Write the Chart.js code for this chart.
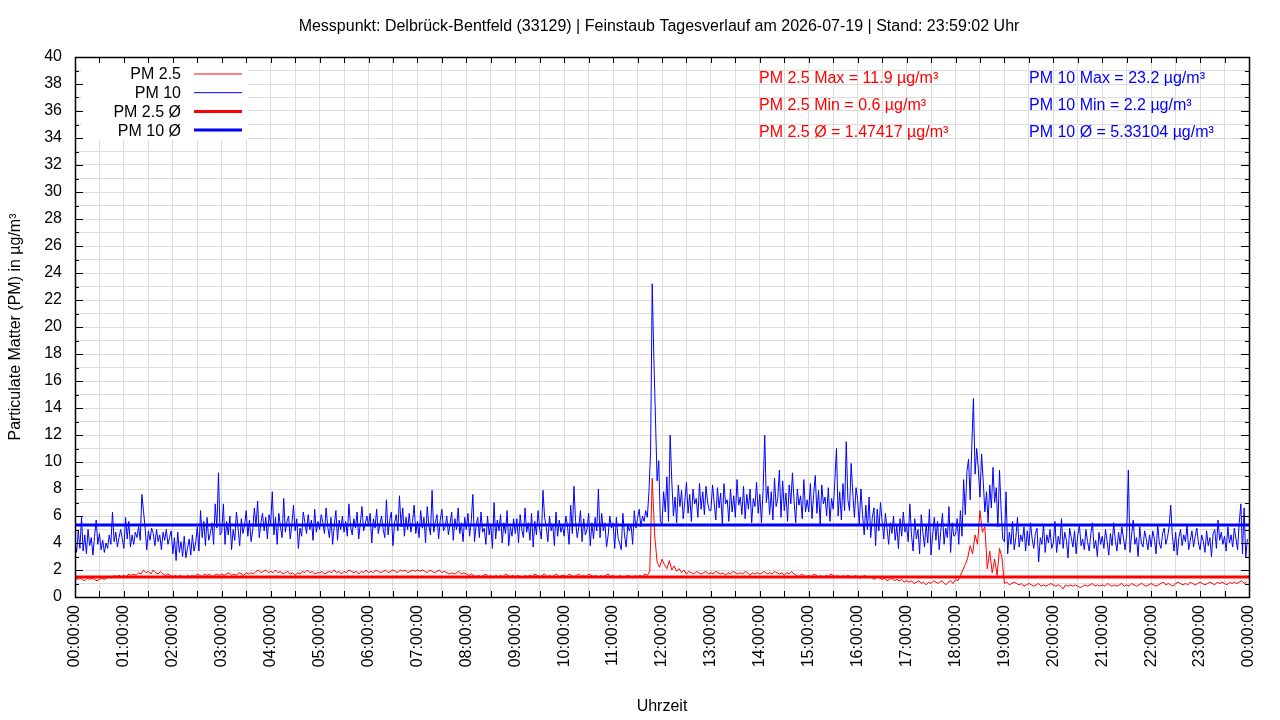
<!DOCTYPE html>
<html>
<head>
<meta charset="utf-8">
<script src="https://cdn.jsdelivr.net/npm/chart.js@4.4.1/dist/chart.umd.min.js"></script>
<style>
  html, body { margin: 0; padding: 0; background: #fff; }
  #wrap { width: 1280px; height: 720px; position: relative; }
</style>
</head>
<body>
<div id="wrap"><canvas id="pmChart"></canvas></div>
<script>
// PM 10 sampled every 2 minutes, PM 2.5 every 3 minutes
const pm10Step = 2;
const pm25Step = 3;

const hourLabels = [
  "00:00:00", "01:00:00", "02:00:00", "03:00:00", "04:00:00", "05:00:00", "06:00:00", "07:00:00",
  "08:00:00", "09:00:00", "10:00:00", "11:00:00", "12:00:00", "13:00:00", "14:00:00", "15:00:00",
  "16:00:00", "17:00:00", "18:00:00", "19:00:00", "20:00:00", "21:00:00", "22:00:00", "23:00:00",
  "00:00:00",
];

const pm10 = [
  4.1, 3.3, 4.9, 3.6, 5.9, 3.4, 4.6, 3.2, 5.0, 3.8, 4.4, 3.1, 4.5, 5.7, 3.9, 4.7, 3.5, 4.2, 3.3, 4.0, 3.6, 4.6, 3.9, 6.3, 4.1, 4.8, 3.7, 4.4, 5.0, 4.3,
  3.6, 5.9, 4.3, 5.6, 3.7, 4.6, 3.9, 4.8, 4.4, 5.2, 4.2, 7.6, 6.4, 5.1, 3.5, 4.9, 4.2, 5.1, 4.7, 3.8, 5.0, 4.1, 4.6, 3.5, 4.8, 4.2, 5.0, 3.9, 4.4, 4.9,
  3.2, 4.4, 2.7, 4.8, 3.3, 4.1, 3.0, 4.5, 2.9, 3.6, 4.3, 3.1, 4.6, 3.4, 4.0, 5.2, 3.4, 6.4, 4.4, 5.6, 3.8, 5.9, 4.2, 4.7, 5.5, 3.9, 6.9, 5.1, 9.2, 4.6,
  4.8, 6.9, 3.9, 5.6, 4.6, 6.0, 3.5, 5.0, 4.2, 6.3, 5.1, 3.8, 5.8, 4.7, 5.3, 6.4, 4.5, 5.7, 4.1, 5.0, 6.6, 5.2, 7.1, 4.4, 5.5, 6.2, 4.9, 5.9, 4.3, 6.1,
  5.4, 7.8, 4.6, 5.9, 3.9, 6.2, 5.2, 4.4, 7.3, 4.8, 5.6, 6.0, 4.3, 5.4, 6.8, 4.9, 5.8, 3.6, 5.1, 4.5, 6.3, 5.5, 4.7, 6.1, 5.0, 5.7, 4.2, 6.5, 4.8, 5.6,
  5.0, 6.1, 5.5, 4.7, 6.6, 5.2, 4.4, 5.9, 3.9, 5.3, 6.4, 4.2, 5.7, 5.0, 6.0, 4.8, 5.6, 4.5, 6.9, 5.2, 4.6, 5.8, 5.1, 6.3, 4.3, 5.5, 6.7, 4.9, 5.4, 6.0,
  5.3, 6.2, 4.0, 5.8, 5.1, 6.5, 4.7, 5.4, 6.0, 5.0, 4.4, 7.2, 4.6, 5.7, 6.3, 3.8, 5.5, 6.1, 4.9, 7.5, 5.2, 6.6, 4.5, 5.9, 5.0, 6.2, 4.8, 5.6, 6.8, 4.7,
  5.6, 4.4, 6.4, 5.1, 5.9, 4.0, 6.7, 5.3, 4.6, 7.9, 4.8, 5.5, 6.1, 4.3, 5.7, 6.5, 4.9, 5.2, 6.0, 4.6, 5.4, 6.3, 4.2, 5.8, 5.0, 6.6, 4.7, 5.5, 4.1, 5.9,
  5.0, 6.2, 4.5, 5.6, 7.6, 4.1, 5.3, 5.9, 4.4, 6.3, 4.8, 5.1, 3.9, 6.0, 4.6, 5.4, 3.6, 7.0, 4.3, 5.7, 4.9, 6.1, 4.0, 5.5, 4.7, 6.4, 3.8, 5.2, 4.5, 5.8,
  4.7, 5.8, 4.0, 6.1, 5.0, 4.4, 6.6, 4.8, 5.5, 4.2, 6.2, 3.7, 5.6, 4.6, 6.4, 5.0, 4.3, 7.9, 5.9, 5.2, 4.1, 6.0, 4.9, 5.4, 3.8, 6.3, 4.5, 5.7, 4.8, 5.3,
  4.5, 6.0, 5.3, 3.9, 6.8, 4.7, 8.2, 5.6, 4.4, 5.2, 6.4, 4.1, 5.8, 4.6, 5.0, 6.2, 3.8, 5.5, 4.3, 5.9, 4.9, 8.0, 4.4, 6.2, 4.9, 5.5, 3.7, 4.6, 6.0, 5.1,
  5.5, 3.6, 5.9, 4.4, 4.0, 3.5, 6.2, 4.6, 3.7, 5.3, 4.9, 5.4, 3.9, 6.4, 5.1, 5.8, 6.5, 5.2, 6.0, 5.6, 6.4, 5.9, 7.8, 10.8, 23.2, 17.7, 13.2, 8.6, 10.1, 5.6,
  5.4, 7.8, 6.3, 8.9, 5.6, 12.0, 8.6, 6.0, 7.4, 5.5, 8.3, 6.7, 7.9, 5.8, 7.1, 8.5, 6.2, 7.6, 5.6, 8.0, 6.9, 7.3, 5.9, 8.4, 6.5, 7.8, 6.1, 8.2, 7.0, 6.4,
  6.4, 8.3, 7.0, 5.7, 8.1, 6.6, 7.7, 5.4, 8.4, 6.9, 7.2, 5.6, 8.0, 6.3, 7.5, 5.9, 8.7, 6.8, 7.4, 6.1, 8.2, 5.8, 7.6, 6.5, 8.0, 5.5, 7.3, 6.7, 8.5, 6.2,
  7.6, 5.5, 7.9, 12.0, 7.0, 8.2, 6.1, 7.8, 5.7, 8.8, 6.7, 7.3, 9.4, 5.9, 8.6, 6.4, 7.7, 5.6, 8.3, 6.9, 9.2, 7.1, 5.5, 8.0, 6.8, 7.5, 5.8, 8.7, 6.3, 7.2,
  6.3, 8.4, 5.8, 7.6, 9.0, 6.2, 7.9, 5.4, 8.3, 6.9, 7.4, 6.0, 8.1, 5.6, 7.3, 6.5, 8.6, 11.0, 6.0, 7.8, 5.7, 8.4, 6.4, 11.5, 7.2, 6.4, 9.9, 7.7, 5.9, 8.1,
  7.2, 5.3, 8.0, 6.1, 4.6, 6.8, 5.0, 7.4, 4.4, 5.9, 6.6, 3.8, 6.5, 4.9, 7.0, 5.6, 4.3, 6.2, 5.1, 3.9, 5.5, 4.7, 6.0, 4.2, 5.3, 3.6, 5.8, 4.5, 6.3, 4.8,
  5.3, 4.1, 6.9, 4.6, 3.4, 5.8, 4.3, 5.0, 3.2, 6.1, 4.8, 3.7, 5.4, 4.0, 6.5, 3.1, 4.6, 5.9, 4.2, 5.6, 3.5, 4.9, 6.2, 3.9, 5.1, 4.4, 6.7, 3.3, 5.5, 4.5,
  4.6, 5.8, 3.9, 6.4, 4.5, 8.7, 6.1, 9.3, 10.2, 7.2, 11.2, 14.7, 9.1, 11.0, 9.5, 7.4, 10.6, 8.6, 6.3, 7.8, 5.5, 8.3, 6.6, 9.6, 7.0, 8.1, 5.2, 9.4, 6.4, 4.3,
  4.1, 7.8, 3.2, 4.8, 3.9, 5.6, 3.5, 4.4, 5.9, 3.7, 4.6, 4.1, 5.2, 3.4, 4.9, 3.8, 5.5, 4.3, 3.6, 4.7, 5.1, 2.6, 4.4, 3.9, 5.4, 3.3, 4.6, 4.0, 5.0, 3.6,
  4.0, 5.6, 3.3, 4.5, 3.9, 5.8, 3.6, 4.8, 4.2, 2.9, 5.1, 4.4, 3.7, 4.9, 3.2, 4.6, 5.3, 3.8, 4.3, 3.5, 5.0, 4.1, 3.4, 4.7, 5.5, 3.6, 4.2, 3.0, 4.8, 3.9,
  4.5, 3.6, 5.0, 4.1, 3.1, 4.7, 3.8, 5.5, 4.2, 3.4, 4.8, 3.9, 5.2, 4.4, 3.5, 4.6, 9.4, 3.3, 4.6, 5.7, 3.9, 4.4, 3.0, 5.2, 4.0, 3.7, 4.9, 4.3, 3.5, 4.6,
  3.7, 4.9, 4.3, 3.2, 5.4, 4.0, 3.6, 4.7, 5.1, 3.9, 4.4, 5.2, 6.8, 4.5, 3.4, 4.8, 3.1, 4.4, 5.0, 3.8, 4.6, 4.1, 5.3, 3.5, 4.2, 4.9, 3.7, 4.5, 5.1, 4.0,
  3.5, 4.6, 4.1, 3.3, 4.9, 3.8, 4.4, 3.0, 4.7, 5.0, 3.6, 5.7, 4.2, 4.8, 3.9, 4.5, 3.4, 5.2, 4.0, 4.6, 3.7, 5.1, 4.3, 3.5, 5.5, 6.9, 3.2, 6.6, 2.9, 4.3,
];

const pm25 = [
  1.4, 1.3, 1.4, 1.3, 1.2, 1.4, 1.3, 1.4, 1.3, 1.2, 1.3, 1.4, 1.3, 1.4, 1.5, 1.4, 1.6, 1.5, 1.6, 1.5,
  1.6, 1.5, 1.7, 1.6, 1.7, 1.6, 1.8, 1.7, 2.0, 1.8, 1.9, 1.7, 2.0, 1.8, 1.7, 1.9, 1.7, 1.6, 1.7, 1.6,
  1.5, 1.6, 1.5, 1.6, 1.5, 1.4, 1.6, 1.5, 1.6, 1.5, 1.7, 1.6, 1.5, 1.7, 1.6, 1.7, 1.5, 1.6, 1.7, 1.6,
  1.7, 1.6, 1.7, 1.8, 1.6, 1.7, 1.6, 1.8, 1.7, 1.6, 1.8, 1.7, 1.8, 1.7, 1.9, 2.0, 1.8, 1.9, 2.0, 1.8,
  1.9, 1.8, 2.0, 1.8, 1.9, 1.7, 1.8, 1.9, 1.7, 1.8, 1.6, 1.8, 1.7, 1.9, 1.8, 2.0, 1.8, 1.9, 1.7, 1.8,
  1.8, 1.9, 1.7, 1.8, 1.9, 1.8, 2.0, 1.8, 1.9, 1.7, 1.9, 1.8, 2.0, 1.9, 1.8, 1.9, 1.7, 1.9, 1.8, 2.0,
  1.8, 1.9, 1.8, 2.0, 1.9, 1.8, 1.9, 2.0, 1.8, 1.9, 2.0, 1.9, 1.8, 2.0, 1.9, 2.0, 1.8, 1.9, 2.0, 1.9,
  2.0, 1.9, 2.0, 1.9, 1.8, 2.0, 1.9, 1.8, 1.9, 2.0, 1.8, 1.9, 1.8, 1.7, 1.8, 1.7, 1.8, 1.9, 1.7, 1.8,
  1.7, 1.6, 1.7, 1.6, 1.5, 1.6, 1.5, 1.6, 1.7, 1.5, 1.6, 1.4, 1.6, 1.5, 1.6, 1.5, 1.7, 1.6, 1.5, 1.6,
  1.5, 1.6, 1.5, 1.4, 1.6, 1.5, 1.6, 1.5, 1.7, 1.6, 1.5, 1.6, 1.7, 1.5, 1.6, 1.5, 1.6, 1.7, 1.5, 1.6,
  1.6, 1.5, 1.7, 1.6, 1.5, 1.6, 1.7, 1.5, 1.6, 1.5, 1.7, 1.6, 1.5, 1.6, 1.4, 1.6, 1.5, 1.6, 1.7, 1.5,
  1.6, 1.4, 1.5, 1.6, 1.4, 1.5, 1.6, 1.5, 1.4, 1.6, 1.5, 1.6, 1.5, 1.7, 1.6, 1.9, 8.8, 4.6, 2.6, 2.2,
  2.8, 2.4, 2.1, 2.7, 2.0, 2.3, 1.9, 2.1, 1.8, 2.0, 1.7, 1.9, 1.8, 1.7, 1.9, 1.8, 1.7, 1.8, 1.9, 1.7,
  1.8, 1.7, 1.9, 1.8, 1.7, 1.8, 1.6, 1.8, 1.7, 1.9, 1.8, 1.7, 1.8, 1.7, 1.9, 1.8, 1.6, 1.8, 1.7, 1.8,
  1.7, 1.8, 1.9, 1.7, 1.8, 1.7, 1.9, 1.8, 1.7, 1.8, 1.6, 1.8, 1.7, 1.9, 1.7, 1.6, 1.5, 1.7, 1.6, 1.5,
  1.6, 1.5, 1.7, 1.6, 1.5, 1.6, 1.4, 1.6, 1.5, 1.7, 1.6, 1.5, 1.6, 1.4, 1.6, 1.5, 1.6, 1.5, 1.4, 1.6,
  1.5, 1.4, 1.5, 1.6, 1.4, 1.5, 1.4, 1.3, 1.5, 1.4, 1.3, 1.4, 1.2, 1.3, 1.4, 1.2, 1.3, 1.2, 1.3, 1.1,
  1.2, 1.1, 1.2, 1.0, 1.1, 1.2, 1.0, 1.1, 0.9, 1.1, 1.0, 1.2, 1.1, 1.0, 1.2, 1.1, 0.9, 1.1, 1.2, 1.0,
  1.3, 1.2, 1.6, 2.0, 2.4, 2.9, 3.8, 3.2, 4.6, 3.9, 6.4, 4.8, 5.2, 2.1, 3.4, 1.8, 2.8, 1.6, 3.6, 2.9,
  1.0, 1.1, 0.9, 1.0, 1.1, 1.0, 0.9, 1.0, 0.8, 0.9, 1.0, 0.9, 0.8, 0.9, 1.0, 0.8, 0.9, 0.8, 0.9, 1.0,
  0.9, 0.8, 0.9, 0.8, 0.6, 0.9, 0.8, 0.9, 0.8, 0.9, 0.8, 0.7, 0.8, 0.9, 0.8, 0.9, 1.0, 0.8, 0.9, 0.8,
  0.9, 0.8, 1.0, 0.9, 0.8, 0.9, 0.8, 0.9, 1.0, 0.8, 0.9, 0.8, 1.0, 0.9, 0.8, 0.9, 1.0, 0.9, 0.8, 0.9,
  1.0, 0.9, 0.8, 0.9, 1.0, 1.1, 0.9, 1.0, 0.9, 0.8, 1.0, 1.1, 1.0, 0.9, 1.0, 0.9, 1.1, 1.0, 0.9, 1.0,
  1.1, 1.0, 0.9, 1.0, 1.1, 1.0, 0.9, 1.1, 1.0, 1.1, 1.0, 0.9, 1.1, 1.0, 1.1, 1.0, 1.1, 1.2, 1.0, 1.1,
];

// stats as printed in the plot
const pm25Max = 11.9, pm25Min = 0.6, pm25Avg = 1.47417;
const pm10Max = 23.2, pm10Min = 2.2, pm10Avg = 5.33104;

const titleText = "Messpunkt: Delbrück-Bentfeld (33129) | Feinstaub Tagesverlauf am 2026-07-19 | Stand: 23:59:02 Uhr";

const red = "#ff0000";
const blue = "#0000ff";
const gridColor = "#dcdcdc";
const font = "'Liberation Sans', Arial, sans-serif";

const toPoints = (arr, step) => arr.map((v, i) => ({ x: i * step, y: v }));
const flat = (v) => [{ x: 0, y: v }, { x: 1440, y: v }];

// gnuplot look: white key box, inward ticks on all four sides, black frame
const gnuplotFrame = {
  id: "gnuplotFrame",
  beforeDatasetsDraw(chart) {
    const ctx = chart.ctx;
    ctx.save();
    ctx.fillStyle = "#fff";
    ctx.fillRect(82, 58, 166, 82);
    ctx.restore();
  },
  afterDraw(chart) {
    const { ctx, chartArea: a, scales } = chart;
    ctx.save();
    ctx.strokeStyle = "#000";
    ctx.lineWidth = 1;
    ctx.beginPath();
    for (let m = 0; m <= 1440; m += 30) {
      const x = Math.round(scales.x.getPixelForValue(m)) + 0.5;
      ctx.moveTo(x, a.bottom); ctx.lineTo(x, a.bottom - 6);
      ctx.moveTo(x, a.top); ctx.lineTo(x, a.top + 6);
    }
    for (let v = 0; v <= 40; v++) {
      const y = Math.round(scales.y.getPixelForValue(v)) + 0.5;
      const len = v % 2 === 0 ? 8 : 4;
      ctx.moveTo(a.left, y); ctx.lineTo(a.left + len, y);
      ctx.moveTo(a.right, y); ctx.lineTo(a.right - len, y);
    }
    ctx.stroke();
    ctx.lineWidth = 1.5;
    ctx.strokeRect(Math.round(a.left) + 0.5, Math.round(a.top) + 0.5, Math.round(a.right - a.left), Math.round(a.bottom - a.top));

    ctx.textBaseline = "middle";

    // title
    ctx.font = "16px " + font;
    ctx.fillStyle = "#000";
    ctx.textAlign = "center";
    ctx.fillText(titleText, 659, 27);

    // key
    ctx.textAlign = "right";
    chart.data.datasets.forEach((ds, i) => {
      const y = 74 + i * 18.7;
      ctx.fillStyle = "#000";
      ctx.fillText(ds.label, 181, y + 1);
      ctx.strokeStyle = ds.borderColor;
      ctx.lineWidth = ds.borderWidth;
      ctx.beginPath();
      ctx.moveTo(194, y); ctx.lineTo(242, y);
      ctx.stroke();
    });

    // stats labels
    ctx.textAlign = "left";
    ctx.fillStyle = red;
    ctx.fillText(`PM 2.5 Max = ${pm25Max} µg/m³`, 759, 79);
    ctx.fillText(`PM 2.5 Min = ${pm25Min} µg/m³`, 759, 106);
    ctx.fillText(`PM 2.5 Ø = ${pm25Avg} µg/m³`, 759, 133);
    ctx.fillStyle = blue;
    ctx.fillText(`PM 10 Max = ${pm10Max} µg/m³`, 1029, 79);
    ctx.fillText(`PM 10 Min = ${pm10Min} µg/m³`, 1029, 106);
    ctx.fillText(`PM 10 Ø = ${pm10Avg} µg/m³`, 1029, 133);
    ctx.restore();
  },
};

new Chart(document.getElementById("pmChart"), {
  type: "line",
  data: {
    datasets: [
      { label: "PM 2.5", data: toPoints(pm25, pm25Step), borderColor: red, borderWidth: 1, order: 3 },
      { label: "PM 10", data: toPoints(pm10, pm10Step), borderColor: blue, borderWidth: 1, order: 2 },
      { label: "PM 2.5 Ø", data: flat(pm25Avg), borderColor: red, borderWidth: 3, order: 1 },
      { label: "PM 10 Ø", data: flat(pm10Avg), borderColor: blue, borderWidth: 3, order: 0 },
    ],
  },
  options: {
    responsive: true,
    maintainAspectRatio: false,
    animation: false,
    devicePixelRatio: 1,
    layout: { padding: { left: 0, right: 31, top: 57, bottom: 0 } },
    elements: { point: { radius: 0 }, line: { tension: 0, fill: false } },
    plugins: {
      legend: { display: false },
      tooltip: { enabled: false },
      title: { display: false },
    },
    scales: {
      x: {
        type: "linear",
        min: 0,
        max: 1440,
        afterFit: (s) => { s.height = 123; },
        grid: { color: gridColor, drawTicks: false },
        border: { display: false },
        ticks: {
          stepSize: 30,
          autoSkip: false,
          maxRotation: 90,
          minRotation: 90,
          padding: 8,
          color: "#000",
          font: { family: font, size: 16 },
          callback: (v) => (v % 60 === 0 ? hourLabels[v / 60] : ""),
        },
        title: { display: true, text: "Uhrzeit", color: "#000", font: { family: font, size: 16 }, padding: { top: 0, bottom: 4 } },
      },
      y: {
        min: 0,
        max: 40,
        afterFit: (s) => { s.width = 75; },
        grid: { color: gridColor, drawTicks: false },
        border: { display: false },
        ticks: {
          stepSize: 1,
          autoSkip: false,
          padding: 13,
          color: "#000",
          font: { family: font, size: 16 },
          callback: (v) => (v % 2 === 0 ? String(v) : ""),
        },
        title: { display: true, text: "Particulate Matter (PM) in µg/m³", color: "#000", font: { family: font, size: 16 }, padding: { top: 6, bottom: 0 } },
      },
    },
  },
  plugins: [gnuplotFrame],
});
</script>
</body>
</html>
